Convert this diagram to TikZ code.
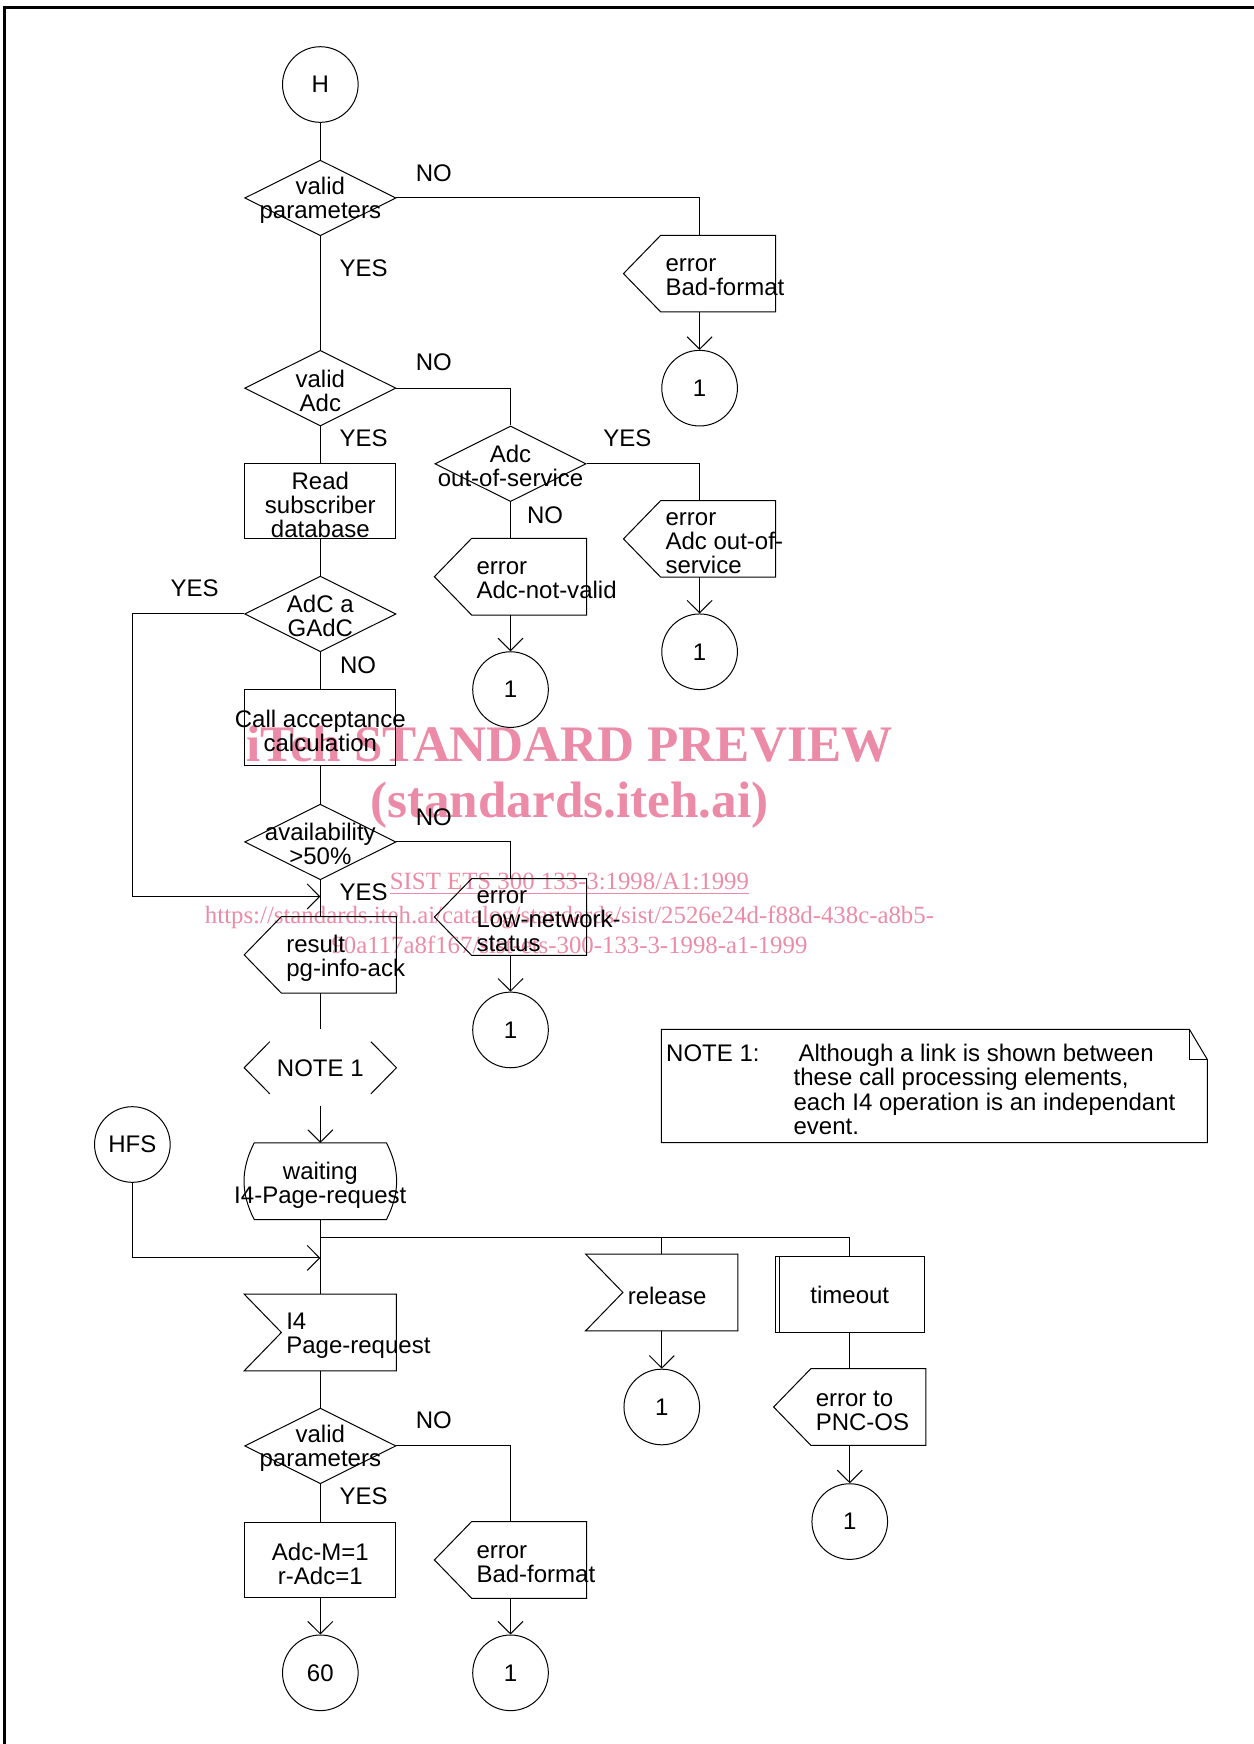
\documentclass[tikz,border=0pt]{standalone}
\usepackage{fontspec}
\setmainfont{Liberation Sans}
\newfontfamily\wmfont{Liberation Serif}
\usetikzlibrary{positioning, shapes.geometric, arrows.meta}
\definecolor{wmpink}{RGB}{236,139,168}

\tikzset{
  conn/.style={circle, draw, minimum size=37.8pt, inner sep=0pt},
  task/.style={rectangle, draw, minimum width=75.6pt, minimum height=37.8pt, inner sep=0pt,
    label={[align=center, inner sep=0pt, yshift=-1.8pt]center:#1}},
  decision/.style={diamond, draw, minimum width=75.6pt, minimum height=37.8pt, inner sep=0pt,
    label={[align=center, inner sep=0pt, yshift=-1.2pt]center:#1}},
  sendsig/.style={rectangle, minimum width=75.6pt, minimum height=37.8pt, inner sep=0pt,
    append after command={\pgfextra{\draw ([xshift=18.6pt]\tikzlastnode.north west)
      -- (\tikzlastnode.north east) -- (\tikzlastnode.south east)
      -- ([xshift=18.6pt]\tikzlastnode.south west) -- (\tikzlastnode.west) -- cycle;}},
    label={[align=left, anchor=west, inner sep=0pt, xshift=20.8pt, yshift=-1.9pt]west:#1}},
  recvsig/.style={rectangle, minimum width=75.6pt, minimum height=37.8pt, inner sep=0pt,
    append after command={\pgfextra{\draw (\tikzlastnode.north west)
      -- (\tikzlastnode.north east) -- (\tikzlastnode.south east)
      -- (\tikzlastnode.south west) -- ([xshift=18.6pt]\tikzlastnode.west) -- cycle;}},
    label={[align=left, anchor=west, inner sep=0pt, xshift=20.8pt, yshift=-1.5pt]west:#1}},
  timer/.style={rectangle, draw, minimum width=74.5pt, minimum height=37.8pt, inner sep=0pt,
    append after command={\pgfextra{\draw ([xshift=2.4pt]\tikzlastnode.north west)
      -- ([xshift=2.4pt]\tikzlastnode.south west);}}},
  waitstate/.style={rectangle, minimum width=75.6pt, minimum height=37.8pt, inner sep=0pt,
    append after command={\pgfextra{\draw ([xshift=5pt]\tikzlastnode.north west)
      -- ([xshift=-5pt]\tikzlastnode.north east)
      to[bend left=27] ([xshift=-5pt]\tikzlastnode.south east)
      -- ([xshift=5pt]\tikzlastnode.south west)
      to[bend left=27] ([xshift=5pt]\tikzlastnode.north west);}},
    label={[align=center, inner sep=0pt, yshift=-2pt]center:#1}},
  comment/.style={rectangle, minimum width=75.6pt, minimum height=37.8pt, inner sep=0pt,
    append after command={\pgfextra{
      \draw ([xshift=12.8pt,yshift=-6.1pt]\tikzlastnode.north west) -- (\tikzlastnode.west)
        -- ([xshift=12.8pt,yshift=6.1pt]\tikzlastnode.south west);
      \draw ([xshift=-12.8pt,yshift=-6.1pt]\tikzlastnode.north east) -- (\tikzlastnode.east)
        -- ([xshift=-12.8pt,yshift=6.1pt]\tikzlastnode.south east);}}},
  notebox/.style={rectangle, minimum width=272.4pt, minimum height=56.1pt, inner sep=0pt,
    append after command={\pgfextra{
      \draw (\tikzlastnode.north west) -- ([xshift=-8.9pt]\tikzlastnode.north east)
        -- ([yshift=-15pt]\tikzlastnode.north east) -- (\tikzlastnode.south east)
        -- (\tikzlastnode.south west) -- cycle;
      \draw ([xshift=-8.9pt]\tikzlastnode.north east) -- ([xshift=-8.9pt,yshift=-15pt]\tikzlastnode.north east)
        -- ([yshift=-15pt]\tikzlastnode.north east);}}},
  lbl/.style={inner sep=0pt},
  wmark/.style={text=wmpink, anchor=base, inner sep=0pt}
}

\begin{document}
\begin{tikzpicture}[x=0.5559pt, y=-0.5559pt, line width=0.5pt,
    font=\fontsize{12}{12}\selectfont,
    >={Straight Barb[length=6.2pt,width=12.5pt]}]
  \useasboundingbox (0,0) rectangle (1127,1568);

  % watermark
  \node (wm1) [wmark, font=\wmfont\bfseries\fontsize{25.6}{28}\selectfont] at (512,685) {iTeh STANDARD PREVIEW};
  \node (wm2) [wmark, font=\wmfont\bfseries\fontsize{25.6}{28}\selectfont] at (512,735) {(standards.iteh.ai)};
  \node (wm3) [wmark, font=\wmfont\fontsize{12.4}{14}\selectfont] at (512,800) {\underline{SIST ETS 300 133-3:1998/A1:1999}};
  \node (wm4) [wmark, font=\wmfont\fontsize{12.4}{14}\selectfont] at (512,830) {https://standards.iteh.ai/catalog/standards/sist/2526e24d-f88d-438c-a8b5-};
  \node (wm5) [wmark, font=\wmfont\fontsize{12.4}{14}\selectfont] at (512,857) {90a117a8f167/sist-ets-300-133-3-1998-a1-1999};

  % frame
  \draw[line width=1.3pt] (4,1568) -- (4,6.6) -- (1127,6.6);

  % upper part
  \node (h) [conn] at (288,76) {H};
  \node (vp1) [decision={valid\\parameters}] at (288,178) {};
  \node (ebf1) [sendsig={error\\Bad-format}] at (629,246) {};
  \node (c1a) [conn] at (629,349) {1};
  \node (va) [decision={valid\\Adc}] at (288,349) {};
  \node (aos) [decision={Adc\\out-of-service}] at (459,417) {};
  \node (eaos) [sendsig={error\\Adc out-of-\\service}] at (629,484.5) {};
  \node (c1b) [conn] at (629,586) {1};
  \node (rsd) [task={Read\\subscriber\\database}] at (288,450.5) {};
  \node (eanv) [sendsig={error\\Adc-not-valid}] at (459,518.5) {};
  \node (c1c) [conn] at (459,620) {1};
  \node (gadc) [decision={AdC a\\GAdC}] at (288,552) {};
  \node (cac) [task={Call acceptance\\calculation}] at (288,654) {};
  \node (avail) [decision={availability\\>50\%}] at (288,757) {};
  \node (elns) [sendsig={error\\Low-network-\\status}] at (459,824.5) {};
  \node (c1d) [conn] at (459,926) {1};
  \node (res) [sendsig={result\\pg-info-ack}] at (288,858.5) {};
  \node (note1) [comment] at (288,960) {NOTE 1};
  \node (note) [notebox, label={[anchor=north west, inner sep=0pt, xshift=2.2pt, yshift=-6.9pt]north west:{\begin{tabular}[t]{@{}p{63.7pt}@{}l@{}}NOTE 1: & \hspace{2.5pt}Although a link is shown between\\
      & these call processing elements,\\ & each I4 operation is an independant\\ & event.\end{tabular}}}] at (840,976.5) {};

  \node (no1) [lbl] at (390,156) {NO};
  \node (yes1) [lbl] at (327,241) {YES};
  \node (no2) [lbl] at (390,326) {NO};
  \node (yes2) [lbl] at (327,394) {YES};
  \node (yes3) [lbl] at (564,394) {YES};
  \node (no3) [lbl] at (490,463) {NO};
  \node (yes4) [lbl] at (175,529) {YES};
  \node (no4) [lbl] at (322,598) {NO};
  \node (no5) [lbl] at (390,735) {NO};
  \node (yes5) [lbl] at (327,802) {YES};

  \coordinate (lp) at (119,806);
  \coordinate (j1) at (288,806);

  \draw (h) -- (vp1);
  \draw (vp1.east) -| (ebf1.north);
  \draw[->] (ebf1) -- (c1a);
  \draw (vp1) -- (va);
  \draw (va.east) -| (aos.north);
  \draw (va) -- (rsd);
  \draw (aos.east) -| (eaos.north);
  \draw[->] (eaos) -- (c1b);
  \draw (aos) -- (eanv);
  \draw[->] (eanv) -- (c1c);
  \draw (rsd) -- (gadc);
  \draw (gadc) -- (cac);
  \draw[->] (gadc.west) -| (lp) -- (j1);
  \draw (cac) -- (avail);
  \draw (avail.east) -| (elns.north);
  \draw[->] (elns) -- (c1d);
  \draw (avail) -- (res);
  \draw (res) -- (note1);

  % lower part
  \node (hfs) [conn] at (119,1029) {HFS};
  \node (wait) [waitstate={waiting\\I4-Page-request}] at (288,1062) {};
  \node (rel) [recvsig=release] at (595,1162) {};
  \node (tmo) [timer] at (764,1164) {timeout};
  \node (c1e) [conn] at (595,1265) {1};
  \node (epnc) [sendsig={error to\\PNC-OS}] at (764,1265) {};
  \node (c1f) [conn] at (764,1368) {1};
  \node (i4) [recvsig={I4\\Page-request}] at (288,1198) {};
  \node (vp2) [decision={valid\\parameters}] at (288,1300) {};
  \node (adcm) [task={Adc-M=1\\r-Adc=1}] at (288,1402.5) {};
  \node (ebf2) [sendsig={error\\Bad-format}] at (459,1402.5) {};
  \node (c60) [conn] at (288,1504) {60};
  \node (c1g) [conn] at (459,1504) {1};

  \node (no6) [lbl] at (390,1277) {NO};
  \node (yes6) [lbl] at (327,1345) {YES};

  \coordinate (j2) at (288,1113);
  \coordinate (j3) at (288,1131);

  \draw[->] (note1) -- (wait);
  \draw (wait) -- (i4);
  \draw[->] (hfs) |- (j3);
  \draw (rel.north) |- (j2);
  \draw (tmo.north) |- (j2);
  \draw[->] (rel) -- (c1e);
  \draw (tmo) -- (epnc);
  \draw[->] (epnc) -- (c1f);
  \draw (i4) -- (vp2);
  \draw (vp2.east) -| (ebf2.north);
  \draw (vp2) -- (adcm);
  \draw[->] (adcm) -- (c60);
  \draw[->] (ebf2) -- (c1g);
\end{tikzpicture}
\end{document}
